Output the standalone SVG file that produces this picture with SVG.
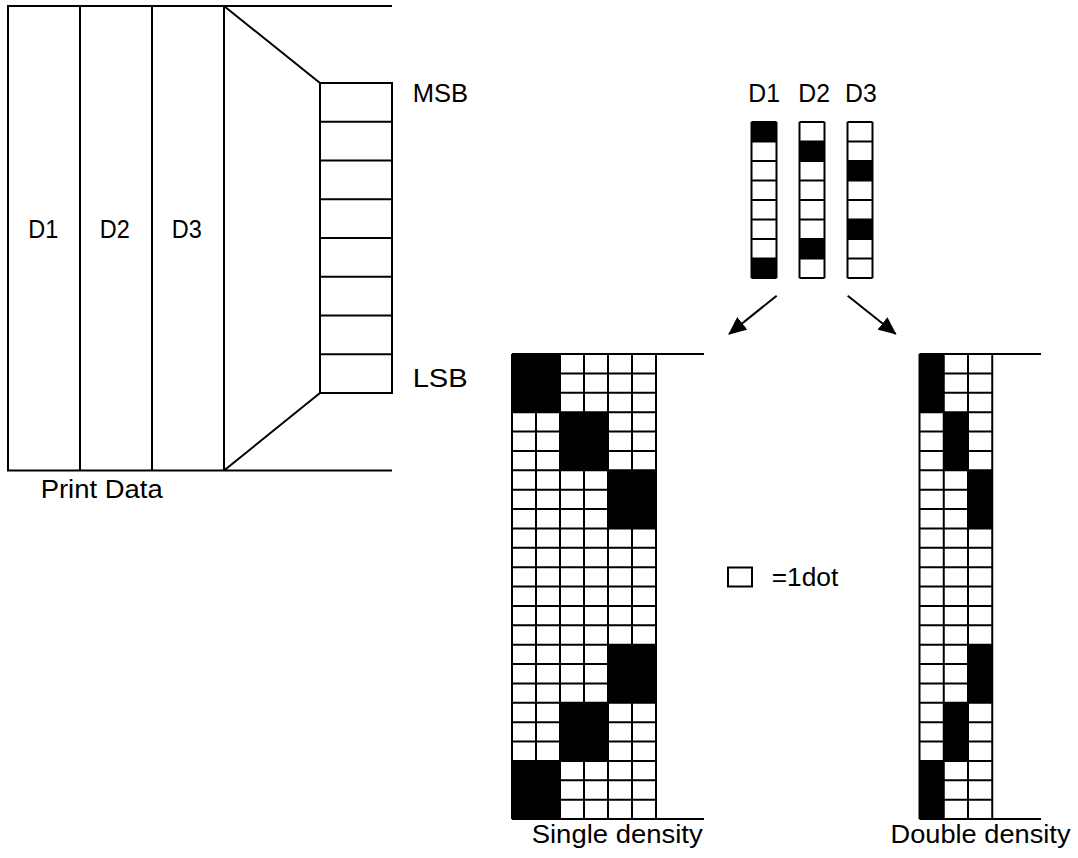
<svg xmlns="http://www.w3.org/2000/svg" width="1078" height="858" viewBox="0 0 1078 858">
<defs>
<style>
.ln{fill:none;stroke:#000;stroke-width:2;stroke-linecap:butt}
.thin{fill:none;stroke:#000;stroke-width:2}
.blk{fill:#000;stroke:none}
.wht{fill:#fff;stroke:#000;stroke-width:2}
text{font-family:"Liberation Sans",Arial,sans-serif;font-size:25px;fill:#000}
</style>
<marker id="ah" markerUnits="userSpaceOnUse" markerWidth="18" markerHeight="16" refX="17" refY="8" orient="auto">
<path d="M0,0 L18,8 L0,16 z" fill="#000"/>
</marker>
</defs>
<rect width="1078" height="858" fill="#fff"/>

<g id="print-data">
<path class="ln" d="M7,6 H392 M7,470.5 H392 M8,6 V470.5 M80,6 V470.5 M152,6 V470.5 M224,6 V470.5 M224,6 L320,83 M224,470.5 L320,393"/>
<text x="28.3" y="238" textLength="30" lengthAdjust="spacingAndGlyphs">D1</text>
<text x="99.7" y="238" textLength="30" lengthAdjust="spacingAndGlyphs">D2</text>
<text x="171.7" y="238" textLength="30" lengthAdjust="spacingAndGlyphs">D3</text>
<text x="40.7" y="498" textLength="122" lengthAdjust="spacingAndGlyphs">Print Data</text>
</g>

<g id="register">
<rect x="320" y="83" width="72" height="310" class="ln"/>
<path class="ln" d="M320,121.75 H392 M320,160.5 H392 M320,199.25 H392 M320,238 H392 M320,276.75 H392 M320,315.5 H392 M320,354.25 H392"/>
<text x="412.7" y="101.7" textLength="55.3" lengthAdjust="spacingAndGlyphs">MSB</text>
<text x="412.7" y="386.7" textLength="55" lengthAdjust="spacingAndGlyphs">LSB</text>
</g>

<g id="bytes">
<text x="748.3" y="101.7" textLength="31.7" lengthAdjust="spacingAndGlyphs">D1</text>
<text x="798.3" y="101.7" textLength="31.7" lengthAdjust="spacingAndGlyphs">D2</text>
<text x="845" y="101.7" textLength="31.7" lengthAdjust="spacingAndGlyphs">D3</text>
<rect class="blk" x="751.5" y="122" width="25" height="19.5"/>
<rect class="blk" x="751.5" y="258.5" width="25" height="19.5"/>
<rect class="blk" x="799.5" y="141.5" width="25" height="19.5"/>
<rect class="blk" x="799.5" y="239" width="25" height="19.5"/>
<rect class="blk" x="847.5" y="161" width="25" height="19.5"/>
<rect class="blk" x="847.5" y="219.5" width="25" height="19.5"/>
<path class="thin" d="M751.5,122 V278 M776.5,122 V278 M799.5,122 V278 M824.5,122 V278 M847.5,122 V278 M872.5,122 V278
M751.5,122 H776.5 M751.5,141.5 H776.5 M751.5,161 H776.5 M751.5,180.5 H776.5 M751.5,200 H776.5 M751.5,219.5 H776.5 M751.5,239 H776.5 M751.5,258.5 H776.5 M751.5,278 H776.5
M799.5,122 H824.5 M799.5,141.5 H824.5 M799.5,161 H824.5 M799.5,180.5 H824.5 M799.5,200 H824.5 M799.5,219.5 H824.5 M799.5,239 H824.5 M799.5,258.5 H824.5 M799.5,278 H824.5
M847.5,122 H872.5 M847.5,141.5 H872.5 M847.5,161 H872.5 M847.5,180.5 H872.5 M847.5,200 H872.5 M847.5,219.5 H872.5 M847.5,239 H872.5 M847.5,258.5 H872.5 M847.5,278 H872.5"/>
</g>

<g id="connectors">
<line class="ln" x1="776.7" y1="295.7" x2="729" y2="334" marker-end="url(#ah)"/>
<line class="ln" x1="847.7" y1="295.7" x2="895.7" y2="334" marker-end="url(#ah)"/>
</g>

<g id="single-density">
<rect class="blk" x="512" y="354" width="48" height="58.125"/>
<rect class="blk" x="512" y="760.875" width="48" height="58.125"/>
<rect class="blk" x="560" y="412.125" width="48" height="58.125"/>
<rect class="blk" x="560" y="702.75" width="48" height="58.125"/>
<rect class="blk" x="608" y="470.25" width="48" height="58.125"/>
<rect class="blk" x="608" y="644.625" width="48" height="58.125"/>
<path class="thin" d="M512,354 V819 M536,354 V819 M560,354 V819 M584,354 V819 M608,354 V819 M632,354 V819 M656,354 V819
M512,354 H704 M512,373.375 H656 M512,392.75 H656 M512,412.125 H656 M512,431.5 H656 M512,450.875 H656 M512,470.25 H656 M512,489.625 H656 M512,509 H656 M512,528.375 H656 M512,547.75 H656 M512,567.125 H656 M512,586.5 H656 M512,605.875 H656 M512,625.25 H656 M512,644.625 H656 M512,664 H656 M512,683.375 H656 M512,702.75 H656 M512,722.125 H656 M512,741.5 H656 M512,760.875 H656 M512,780.25 H656 M512,799.625 H656 M512,819 H704"/>
<text x="531.7" y="843.3" textLength="171" lengthAdjust="spacingAndGlyphs">Single density</text>
</g>

<g id="legend">
<rect class="wht" x="728" y="567.5" width="24" height="19"/>
<text x="771.7" y="586" textLength="66.6" lengthAdjust="spacingAndGlyphs">=1dot</text>
</g>

<g id="double-density">
<rect class="blk" x="919.5" y="354" width="24.25" height="58.125"/>
<rect class="blk" x="919.5" y="760.875" width="24.25" height="58.125"/>
<rect class="blk" x="943.75" y="412.125" width="24.25" height="58.125"/>
<rect class="blk" x="943.75" y="702.75" width="24.25" height="58.125"/>
<rect class="blk" x="968" y="470.25" width="24.25" height="58.125"/>
<rect class="blk" x="968" y="644.625" width="24.25" height="58.125"/>
<path class="thin" d="M919.5,354 V819 M943.75,354 V819 M968,354 V819 M992.25,354 V819
M919.5,354 H1041 M919.5,373.375 H992.25 M919.5,392.75 H992.25 M919.5,412.125 H992.25 M919.5,431.5 H992.25 M919.5,450.875 H992.25 M919.5,470.25 H992.25 M919.5,489.625 H992.25 M919.5,509 H992.25 M919.5,528.375 H992.25 M919.5,547.75 H992.25 M919.5,567.125 H992.25 M919.5,586.5 H992.25 M919.5,605.875 H992.25 M919.5,625.25 H992.25 M919.5,644.625 H992.25 M919.5,664 H992.25 M919.5,683.375 H992.25 M919.5,702.75 H992.25 M919.5,722.125 H992.25 M919.5,741.5 H992.25 M919.5,760.875 H992.25 M919.5,780.25 H992.25 M919.5,799.625 H992.25 M919.5,819 H1041"/>
<text x="890.5" y="843.3" textLength="180" lengthAdjust="spacingAndGlyphs">Double density</text>
</g>
</svg>
